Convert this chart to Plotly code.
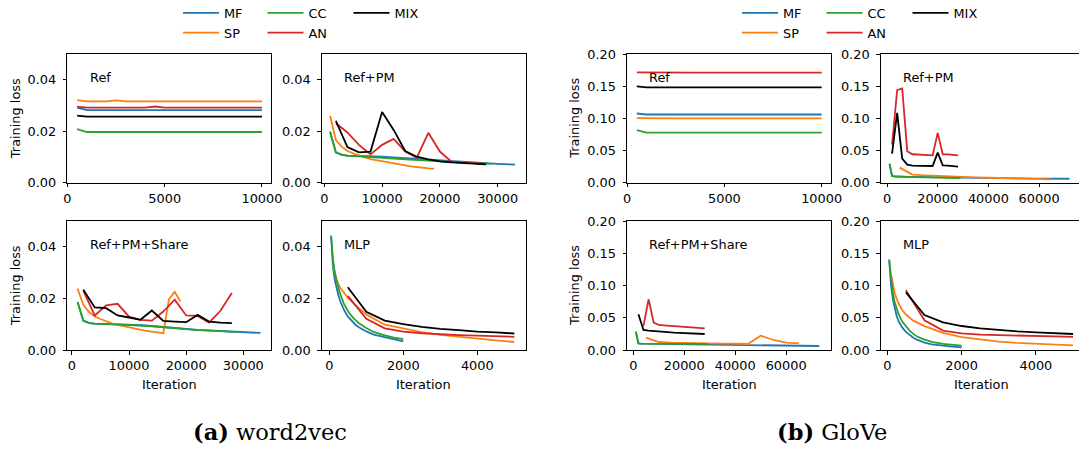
import plotly.graph_objects as go

# ---------------- DATA ----------------
METHODS = ["MF", "SP", "CC", "AN", "MIX"]
COLORS = {"MF": "#1f77b4", "SP": "#ff7f0e", "CC": "#2ca02c", "AN": "#d62728", "MIX": "#000000"}

# word2vec - Ref
W2V_REF_X = [500, 1000, 1500, 2000, 2500, 3000, 3500, 4000, 4500, 5000,
             5500, 6000, 6500, 7000, 7500, 8000, 8500, 9000, 9500, 10000]
W2V_REF_MF = [0.0292, 0.0282, 0.0282, 0.0282, 0.0282, 0.0282, 0.0282, 0.0282, 0.0282, 0.0282,
              0.0282, 0.0282, 0.0282, 0.0282, 0.0282, 0.0282, 0.0282, 0.0282, 0.0282, 0.0282]
W2V_REF_SP = [0.0321, 0.0316, 0.0316, 0.0316, 0.0320, 0.0316, 0.0316, 0.0316, 0.0316, 0.0316,
              0.0316, 0.0316, 0.0316, 0.0316, 0.0316, 0.0316, 0.0316, 0.0316, 0.0316, 0.0316]
W2V_REF_CC = [0.0208, 0.0197, 0.0197, 0.0197, 0.0197, 0.0197, 0.0197, 0.0197, 0.0197, 0.0197,
              0.0197, 0.0197, 0.0197, 0.0197, 0.0197, 0.0197, 0.0197, 0.0197, 0.0197, 0.0197]
W2V_REF_AN = [0.0295, 0.0292, 0.0292, 0.0292, 0.0292, 0.0292, 0.0292, 0.0292, 0.0296, 0.0292,
              0.0292, 0.0292, 0.0292, 0.0292, 0.0292, 0.0292, 0.0292, 0.0292, 0.0292, 0.0292]
W2V_REF_MIX = [0.0261, 0.0257, 0.0257, 0.0257, 0.0257, 0.0257, 0.0257, 0.0257, 0.0257, 0.0257,
               0.0257, 0.0257, 0.0257, 0.0257, 0.0257, 0.0257, 0.0257, 0.0257, 0.0257, 0.0257]

# word2vec - Ref+PM
W2V_PM_SP_X = [1000, 2000, 3000, 4000, 5000, 6000, 7000, 8000, 9000, 10000,
               11000, 12000, 13000, 14000, 15000, 16000, 17000, 18000, 19000]
W2V_PM_SP = [0.0260, 0.0166, 0.0140, 0.0123, 0.0114, 0.0105, 0.0098, 0.0092, 0.0088, 0.0084,
             0.0079, 0.0074, 0.0070, 0.0066, 0.0063, 0.0061, 0.0058, 0.0056, 0.0055]
W2V_PM_CC_X = [1000, 2000, 3000, 4000, 6000, 8000, 10000, 12000, 14000, 16000,
               18000, 20000, 22000, 24000, 26000, 28000, 29000]
W2V_PM_CC = [0.0196, 0.0117, 0.0108, 0.0104, 0.0102, 0.0100, 0.0097, 0.0094, 0.0091, 0.0088,
             0.0085, 0.0082, 0.0080, 0.0078, 0.0076, 0.0074, 0.0073]
W2V_PM_MF_X = [1000, 2000, 3000, 4000, 6000, 8000, 10000, 12000, 14000, 16000,
               18000, 20000, 22000, 24000, 26000, 28000, 30000, 32000, 33000]
W2V_PM_MF = [0.0199, 0.0118, 0.0109, 0.0105, 0.0104, 0.0103, 0.0101, 0.0098, 0.0095, 0.0092,
             0.0089, 0.0086, 0.0083, 0.0080, 0.0077, 0.0075, 0.0073, 0.0071, 0.0070]
W2V_PM_MIX_X = [2000, 4000, 6000, 8000, 10000, 12000, 14000, 16000, 18000, 20000,
                22000, 24000, 26000, 28000]
W2V_PM_MIX = [0.0240, 0.0138, 0.0118, 0.0121, 0.0275, 0.0205, 0.0123, 0.0101, 0.0091, 0.0083,
              0.0079, 0.0077, 0.0074, 0.0071]
W2V_PM_AN = [0.0231, 0.0195, 0.0147, 0.0110, 0.0147, 0.0170, 0.0121, 0.0097, 0.0194, 0.0121,
             0.0082, 0.0079, 0.0077, 0.0073]

# word2vec - Ref+PM+Share
W2V_SH_SP = [0.0238, 0.0175, 0.0147, 0.0130, 0.0120, 0.0110, 0.0103, 0.0097, 0.0092, 0.0087,
             0.0082, 0.0078, 0.0074, 0.0071, 0.0068, 0.0065, 0.0197, 0.0225, 0.0188]
W2V_SH_CC = [0.0186, 0.0113, 0.0104, 0.0101, 0.0100, 0.0099, 0.0097, 0.0095, 0.0092, 0.0088,
             0.0084, 0.0080, 0.0077, 0.0075, 0.0073, 0.0071, 0.0069]
W2V_SH_MF = [0.0186, 0.0114, 0.0105, 0.0102, 0.0101, 0.0100, 0.0098, 0.0096, 0.0093, 0.0089,
             0.0085, 0.0081, 0.0078, 0.0076, 0.0074, 0.0072, 0.0069, 0.0067, 0.0066]
W2V_SH_MIX = [0.0234, 0.0165, 0.0162, 0.0134, 0.0126, 0.0117, 0.0153, 0.0113, 0.0110, 0.0108,
              0.0136, 0.0110, 0.0106, 0.0104]
W2V_SH_AN = [0.0230, 0.0134, 0.0173, 0.0179, 0.0129, 0.0117, 0.0114, 0.0149, 0.0195, 0.0134,
             0.0132, 0.0106, 0.0152, 0.0221]

# word2vec - MLP
MLP_FAST_X = [50, 100, 150, 200, 250, 300, 400, 500, 600, 700, 800, 1000, 1200, 1500, 1750, 2000]
MLP_SP_X = [100, 150, 200, 300, 400, 500, 700, 1000, 1500, 2000, 2500, 3000, 3500, 4000, 4500, 5000]
MLP_SLOW_X = [500, 1000, 1500, 2000, 2500, 3000, 3500, 4000, 4500, 5000]
W2V_MLP_MF = [0.0440, 0.0320, 0.0270, 0.0235, 0.0210, 0.0188, 0.0155, 0.0130, 0.0113, 0.0099,
              0.0088, 0.0072, 0.0060, 0.0049, 0.0040, 0.0033]
W2V_MLP_CC = [0.0444, 0.0350, 0.0300, 0.0265, 0.0238, 0.0215, 0.0178, 0.0152, 0.0132, 0.0117,
              0.0104, 0.0085, 0.0070, 0.0057, 0.0048, 0.0042]
W2V_MLP_SP = [0.0330, 0.0295, 0.0270, 0.0240, 0.0220, 0.0203, 0.0175, 0.0138, 0.0098, 0.0082,
              0.0069, 0.0059, 0.0051, 0.0044, 0.0037, 0.0031]
W2V_MLP_MIX = [0.0243, 0.0148, 0.0114, 0.0100, 0.0090, 0.0082, 0.0077, 0.0071, 0.0068, 0.0064]
W2V_MLP_AN = [0.0210, 0.0121, 0.0084, 0.0071, 0.0065, 0.0061, 0.0058, 0.0056, 0.0053, 0.0051]

# GloVe - Ref
GLV_REF_MF = [0.1075, 0.1060, 0.1060, 0.1060, 0.1060, 0.1060, 0.1060, 0.1060, 0.1060, 0.1060,
              0.1060, 0.1060, 0.1060, 0.1060, 0.1060, 0.1060, 0.1060, 0.1060, 0.1060, 0.1060]
GLV_REF_SP = [0.1003, 0.1000, 0.1000, 0.1000, 0.1000, 0.1000, 0.1000, 0.1000, 0.1000, 0.1000,
              0.1000, 0.1000, 0.1000, 0.1000, 0.1000, 0.1000, 0.1000, 0.1000, 0.1000, 0.1000]
GLV_REF_CC = [0.0816, 0.0779, 0.0779, 0.0779, 0.0779, 0.0779, 0.0779, 0.0779, 0.0779, 0.0779,
              0.0779, 0.0779, 0.0779, 0.0779, 0.0779, 0.0779, 0.0779, 0.0779, 0.0779, 0.0779]
GLV_REF_AN = [0.1714, 0.1712, 0.1712, 0.1712, 0.1712, 0.1712, 0.1712, 0.1712, 0.1712, 0.1712,
              0.1712, 0.1712, 0.1712, 0.1712, 0.1712, 0.1712, 0.1712, 0.1712, 0.1712, 0.1712]
GLV_REF_MIX = [0.1496, 0.1482, 0.1482, 0.1482, 0.1482, 0.1482, 0.1482, 0.1482, 0.1482, 0.1482,
               0.1482, 0.1482, 0.1482, 0.1482, 0.1482, 0.1482, 0.1482, 0.1482, 0.1482, 0.1482]

# GloVe - Ref+PM
GLV_PM_AN_X = [2000, 4000, 6000, 8000, 10000, 12000, 14000, 16000, 18000, 20000,
               22000, 24000, 26000, 28000]
GLV_PM_AN = [0.0592, 0.1439, 0.1465, 0.0488, 0.0442, 0.0436, 0.0430, 0.0428, 0.0426, 0.0774,
             0.0442, 0.0440, 0.0436, 0.0426]
GLV_PM_MIX = [0.0452, 0.1086, 0.0374, 0.0280, 0.0265, 0.0262, 0.0260, 0.0260, 0.0260, 0.0468,
              0.0270, 0.0265, 0.0258, 0.0249]
GLV_PM_CC_X = [1000, 2000, 3000, 4000, 6000, 8000, 10000, 15000, 20000, 25000, 29000]
GLV_PM_CC = [0.0296, 0.0104, 0.0096, 0.0094, 0.0092, 0.0090, 0.0088, 0.0083, 0.0078, 0.0075, 0.0073]
GLV_PM_MF_X = [1000, 2000, 3000, 4000, 6000, 8000, 10000, 15000, 20000, 25000,
               30000, 40000, 50000, 60000, 72000]
GLV_PM_MF = [0.0292, 0.0106, 0.0098, 0.0095, 0.0093, 0.0091, 0.0089, 0.0085, 0.0081, 0.0078,
             0.0075, 0.0070, 0.0066, 0.0063, 0.0061]
GLV_SP_X = [5000, 10000, 15000, 20000, 25000, 30000, 35000, 40000, 45000, 50000,
            55000, 60000, 65000]
GLV_PM_SP = [0.0234, 0.0125, 0.0114, 0.0104, 0.0096, 0.0088, 0.0082, 0.0077, 0.0072, 0.0066,
             0.0062, 0.0057, 0.0053]

# GloVe - Ref+PM+Share
GLV_SH_AN_X = [4000, 6000, 8000, 10000, 12000, 14000, 16000, 18000, 20000, 22000,
               24000, 26000, 28000]
GLV_SH_AN = [0.0375, 0.0786, 0.0424, 0.0388, 0.0382, 0.0376, 0.0370, 0.0364, 0.0358, 0.0352,
             0.0346, 0.0341, 0.0336]
GLV_SH_MIX_X = [2000, 4000, 6000, 8000, 10000, 12000, 14000, 16000, 18000, 20000,
                22000, 24000, 26000, 28000]
GLV_SH_MIX = [0.0553, 0.0310, 0.0300, 0.0292, 0.0285, 0.0280, 0.0275, 0.0270, 0.0266, 0.0262,
              0.0258, 0.0255, 0.0251, 0.0248]
GLV_SH_CC_X = [1000, 2000, 3000, 4000, 6000, 10000, 15000, 20000, 25000, 29000]
GLV_SH_CC = [0.0284, 0.0103, 0.0100, 0.0099, 0.0098, 0.0097, 0.0096, 0.0095, 0.0094, 0.0093]
GLV_SH_MF_X = [1000, 2000, 3000, 4000, 6000, 10000, 15000, 20000, 25000, 30000,
               40000, 50000, 60000, 73000]
GLV_SH_MF = [0.0284, 0.0103, 0.0100, 0.0098, 0.0096, 0.0094, 0.0092, 0.0090, 0.0088, 0.0086,
             0.0078, 0.0072, 0.0067, 0.0062]
GLV_SH_SP = [0.0191, 0.0124, 0.0115, 0.0109, 0.0106, 0.0103, 0.0100, 0.0098, 0.0093, 0.0222,
             0.0155, 0.0114, 0.0103]

# GloVe - MLP
GLV_MLP_MF = [0.140, 0.100, 0.078, 0.063, 0.053, 0.045, 0.035, 0.028, 0.023, 0.019,
              0.016, 0.0115, 0.0088, 0.0065, 0.0052, 0.0042]
GLV_MLP_CC = [0.140, 0.108, 0.088, 0.074, 0.064, 0.056, 0.044, 0.036, 0.030, 0.025,
              0.021, 0.016, 0.0125, 0.0095, 0.0080, 0.0067]
GLV_MLP_SP = [0.117, 0.100, 0.088, 0.0724, 0.062, 0.055, 0.0455, 0.037, 0.0265, 0.020,
              0.016, 0.013, 0.011, 0.0095, 0.0083, 0.0073]
GLV_MLP_MIX = [0.0894, 0.0543, 0.0429, 0.0372, 0.0336, 0.0310, 0.0290, 0.0274, 0.0260, 0.0248]
GLV_MLP_AN = [0.0926, 0.0460, 0.0300, 0.0259, 0.0238, 0.0228, 0.0222, 0.0217, 0.0210, 0.0202]

PANEL_TITLES = ["Ref", "Ref+PM", "Ref", "Ref+PM", "Ref+PM+Share", "MLP", "Ref+PM+Share", "MLP"]
CAPTIONS = ["<b>(a)</b> word2vec", "<b>(b)</b> GloVe"]

# panel -> {method: (x, y)}
PANELS = [
    {"MF": (W2V_REF_X, W2V_REF_MF), "SP": (W2V_REF_X, W2V_REF_SP), "CC": (W2V_REF_X, W2V_REF_CC),
     "AN": (W2V_REF_X, W2V_REF_AN), "MIX": (W2V_REF_X, W2V_REF_MIX)},
    {"MF": (W2V_PM_MF_X, W2V_PM_MF), "SP": (W2V_PM_SP_X, W2V_PM_SP), "CC": (W2V_PM_CC_X, W2V_PM_CC),
     "AN": (W2V_PM_MIX_X, W2V_PM_AN), "MIX": (W2V_PM_MIX_X, W2V_PM_MIX)},
    {"MF": (W2V_REF_X, GLV_REF_MF), "SP": (W2V_REF_X, GLV_REF_SP), "CC": (W2V_REF_X, GLV_REF_CC),
     "AN": (W2V_REF_X, GLV_REF_AN), "MIX": (W2V_REF_X, GLV_REF_MIX)},
    {"MF": (GLV_PM_MF_X, GLV_PM_MF), "SP": (GLV_SP_X, GLV_PM_SP), "CC": (GLV_PM_CC_X, GLV_PM_CC),
     "AN": (GLV_PM_AN_X, GLV_PM_AN), "MIX": (GLV_PM_AN_X, GLV_PM_MIX)},
    {"MF": (W2V_PM_MF_X, W2V_SH_MF), "SP": (W2V_PM_SP_X, W2V_SH_SP), "CC": (W2V_PM_CC_X, W2V_SH_CC),
     "AN": (W2V_PM_MIX_X, W2V_SH_AN), "MIX": (W2V_PM_MIX_X, W2V_SH_MIX)},
    {"MF": (MLP_FAST_X, W2V_MLP_MF), "SP": (MLP_SP_X, W2V_MLP_SP), "CC": (MLP_FAST_X, W2V_MLP_CC),
     "AN": (MLP_SLOW_X, W2V_MLP_AN), "MIX": (MLP_SLOW_X, W2V_MLP_MIX)},
    {"MF": (GLV_SH_MF_X, GLV_SH_MF), "SP": (GLV_SP_X, GLV_SH_SP), "CC": (GLV_SH_CC_X, GLV_SH_CC),
     "AN": (GLV_SH_AN_X, GLV_SH_AN), "MIX": (GLV_SH_MIX_X, GLV_SH_MIX)},
    {"MF": (MLP_FAST_X, GLV_MLP_MF), "SP": (MLP_SP_X, GLV_MLP_SP), "CC": (MLP_FAST_X, GLV_MLP_CC),
     "AN": (MLP_SLOW_X, GLV_MLP_AN), "MIX": (MLP_SLOW_X, GLV_MLP_MIX)},
]

# ---------------- LAYOUT ----------------
W, H = 1079, 451
FONT = "DejaVu Sans"
FS = 12.9

def px_x(v):
    return v / W

def px_y(v):
    return 1 - v / H

COL_PX = [(67.3, 271.3), (321.7, 525.7), (627.0, 831.0), (880.7, 1079.0)]
ROW_PX = [(54.0, 182.7), (221.0, 350.0)]
XRANGES = [[-5, 10480], [-450, 34850], [-5, 10480], [-2485, 75740],
           [-800, 34900], [-205, 5308], [-2475, 77600], [-178, 5160]]
IS_GLOVE = [False, False, True, True, False, False, True, True]

fig = go.Figure()

# legends: one per matplotlib legend column
LEG_OF = {"MF": 0, "SP": 0, "CC": 1, "AN": 1, "MIX": 2}
LEG_X_PX = [[178, 262.5, 348.5], [737, 821.5, 907.5]]

for p, panel in enumerate(PANELS):
    axn = "" if p == 0 else str(p + 1)
    grp = 0 if p in (0, 1, 4, 5) else 1
    for m in METHODS:
        x, y = panel[m]
        show = p in (0, 2)
        leg_idx = grp * 3 + LEG_OF[m] + 1
        legname = "legend" if leg_idx == 1 else "legend%d" % leg_idx
        fig.add_trace(go.Scatter(
            x=x, y=y, mode="lines", name=m,
            line=dict(color=COLORS[m], width=1.8),
            xaxis="x" + axn, yaxis="y" + axn,
            showlegend=show, legend=legname, legendgroup="%s_%d" % (m, grp),
            hoverinfo="skip",
        ))

layout = dict(
    width=W, height=H, margin=dict(l=0, r=0, t=0, b=0, autoexpand=False),
    paper_bgcolor="white", plot_bgcolor="white",
    font=dict(family=FONT, size=FS, color="black"),
)

for p in range(8):
    row = 0 if p < 4 else 1
    col = p % 4
    axn = "" if p == 0 else str(p + 1)
    x0, x1 = COL_PX[col]
    y0, y1 = ROW_PX[row]
    common = dict(showline=True, mirror=True, linecolor="black", linewidth=1,
                  ticks="outside", ticklen=3.5, tickwidth=1, tickcolor="black",
                  showgrid=False, zeroline=False, automargin=False,
                  tickfont=dict(family=FONT, size=FS, color="black"))
    layout["xaxis" + axn] = dict(domain=[px_x(x0), px_x(x1)], range=XRANGES[p],
                                 anchor="y" + axn, tickformat="d", **common)
    if IS_GLOVE[p]:
        yax = dict(range=[0, 0.2], tickvals=[0, 0.05, 0.10, 0.15, 0.20], tickformat=".2f")
    else:
        yax = dict(range=[0, 0.05], tickvals=[0, 0.02, 0.04], tickformat=".2f")
    layout["yaxis" + axn] = dict(domain=[px_y(y1), px_y(y0)], anchor="x" + axn,
                                 ticklabelstandoff=4, **yax, **common)

# legends
for g in range(2):
    for c in range(3):
        idx = g * 3 + c + 1
        key = "legend" if idx == 1 else "legend%d" % idx
        layout[key] = dict(x=px_x(LEG_X_PX[g][c]), y=1 + 2.0 / H, xanchor="left", yanchor="top",
                           orientation="v", bgcolor="rgba(0,0,0,0)", borderwidth=0,
                           tracegroupgap=0, itemwidth=36,
                           font=dict(family=FONT, size=FS, color="black"),
                           itemclick=False, itemdoubleclick=False)

annotations = []
for p in range(8):
    axn = "" if p == 0 else str(p + 1)
    annotations.append(dict(text=PANEL_TITLES[p], xref="x%s domain" % axn, yref="y%s domain" % axn,
                            x=0.1, y=0.817, xanchor="left", yanchor="middle", showarrow=False,
                            font=dict(family=FONT, size=FS, color="black")))
# axis titles
for xc in (15.8, 574.4):
    for (y0, y1) in ROW_PX:
        annotations.append(dict(text="Training loss", xref="paper", yref="paper",
                                x=px_x(xc), y=px_y((y0 + y1) / 2), textangle=-90,
                                xanchor="center", yanchor="middle", showarrow=False,
                                font=dict(family=FONT, size=FS, color="black")))
for xc in (169.3, 423.7, 729.0, 981.5):
    annotations.append(dict(text="Iteration", xref="paper", yref="paper",
                            x=px_x(xc), y=px_y(384.5), xanchor="center", yanchor="middle",
                            showarrow=False, font=dict(family=FONT, size=FS, color="black")))
# captions
for txt, xc in zip(CAPTIONS, (270, 832)):
    annotations.append(dict(text=txt, xref="paper", yref="paper", x=px_x(xc), y=px_y(432),
                            xanchor="center", yanchor="middle", showarrow=False,
                            font=dict(family="DejaVu Serif", size=22.5, color="black")))
layout["annotations"] = annotations

fig.update_layout(**layout)
fig.write_html("out.html", config={"displayModeBar": False},
               post_script="document.body.style.margin='0px';")
